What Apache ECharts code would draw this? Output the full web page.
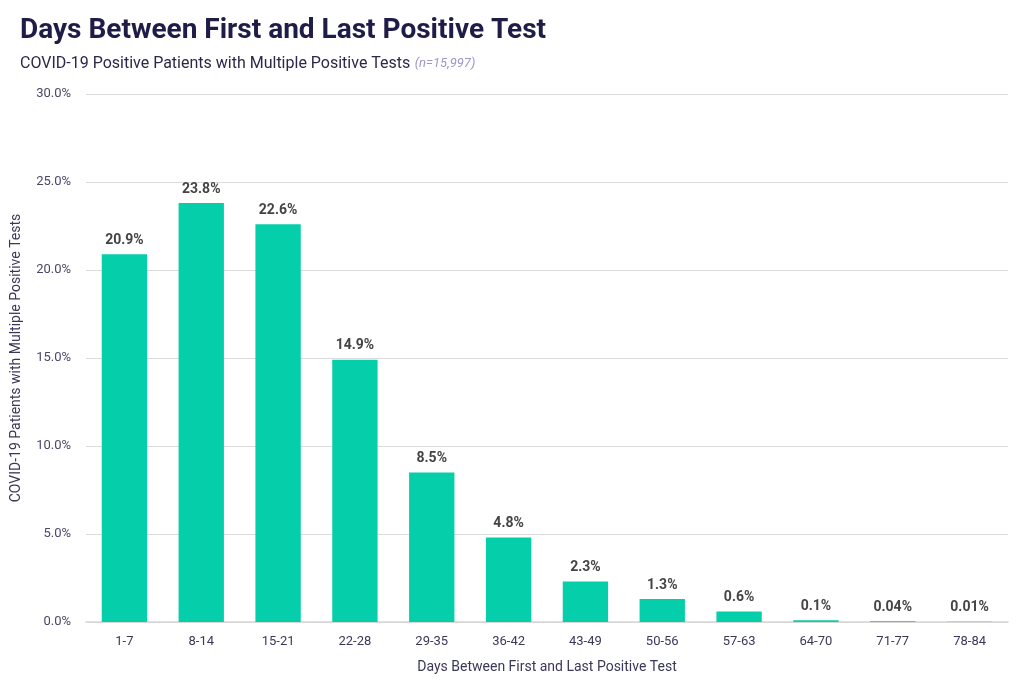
<!DOCTYPE html>
<html>
<head>
<meta charset="utf-8">
<script src="https://cdn.jsdelivr.net/npm/echarts@6/dist/echarts.min.js"></script>
<style>
html,body{margin:0;padding:0;background:#fff;}
#main{width:1024px;height:683px;}
</style>
</head>
<body>
<div id="main"></div>
<script>
var categories = ['1-7', '8-14', '15-21', '22-28', '29-35', '36-42', '43-49', '50-56', '57-63', '64-70', '71-77', '78-84'];
var values = [20.9, 23.8, 22.6, 14.9, 8.5, 4.8, 2.3, 1.3, 0.6, 0.1, 0.04, 0.01];
var labels = ['20.9%', '23.8%', '22.6%', '14.9%', '8.5%', '4.8%', '2.3%', '1.3%', '0.6%', '0.1%', '0.04%', '0.01%'];

var chart = echarts.init(document.getElementById('main'));
var option = {
	animation: false,
	textStyle: { fontFamily: 'Roboto' },
	title: [{
		text: 'Days Between First and Last Positive Test',
		left: 15, top: 12,
		textStyle: { fontSize: 28, fontWeight: 'bold', color: '#1f1d47', fontFamily: 'Roboto' }
	}, {
		text: '{a|COVID-19 Positive Patients with Multiple Positive Tests} {b|(n=15,997)}',
		left: 15, top: 50,
		textStyle: {
			fontWeight: 'normal',
			rich: {
				a: { fontSize: 16, color: '#2a2848', fontWeight: 'normal', fontFamily: 'Roboto' },
				b: { fontSize: 13, color: '#9b97c9', fontWeight: 'normal', fontStyle: 'italic', fontFamily: 'Roboto' }
			}
		}
	}],
	grid: { left: 86, right: 16, top: 94, bottom: 61 },
	xAxis: {
		type: 'category',
		data: categories,
		name: 'Days Between First and Last Positive Test',
		nameLocation: 'middle',
		nameGap: 38,
		nameTextStyle: { fontSize: 14, color: '#3a3858' },
		axisLine: { lineStyle: { color: '#d6d6d6', width: 1.5 } },
		axisTick: { show: false },
		axisLabel: { fontSize: 13, color: '#3a3858', margin: 13 }
	},
	yAxis: {
		type: 'value',
		min: 0, max: 30, interval: 5,
		name: 'COVID-19 Patients with Multiple Positive Tests',
		nameLocation: 'middle',
		nameGap: 63,
		nameTextStyle: { fontSize: 14, color: '#3a3858' },
		axisLabel: {
			fontSize: 13, color: '#4a4868', margin: 15,
			formatter: function (v) { return v.toFixed(1) + '%'; }
		},
		splitLine: { lineStyle: { color: '#dcdcdc' } }
	},
	series: [{
		type: 'bar',
		data: values,
		barCategoryGap: '41%',
		itemStyle: { color: '#05cfaa' },
		label: {
			show: true,
			position: 'top',
			distance: 7,
			fontSize: 14,
			fontWeight: 'bold',
			color: '#444444',
			formatter: function (p) { return labels[p.dataIndex]; }
		}
	}]
};
chart.setOption(option);
</script>
</body>
</html>
